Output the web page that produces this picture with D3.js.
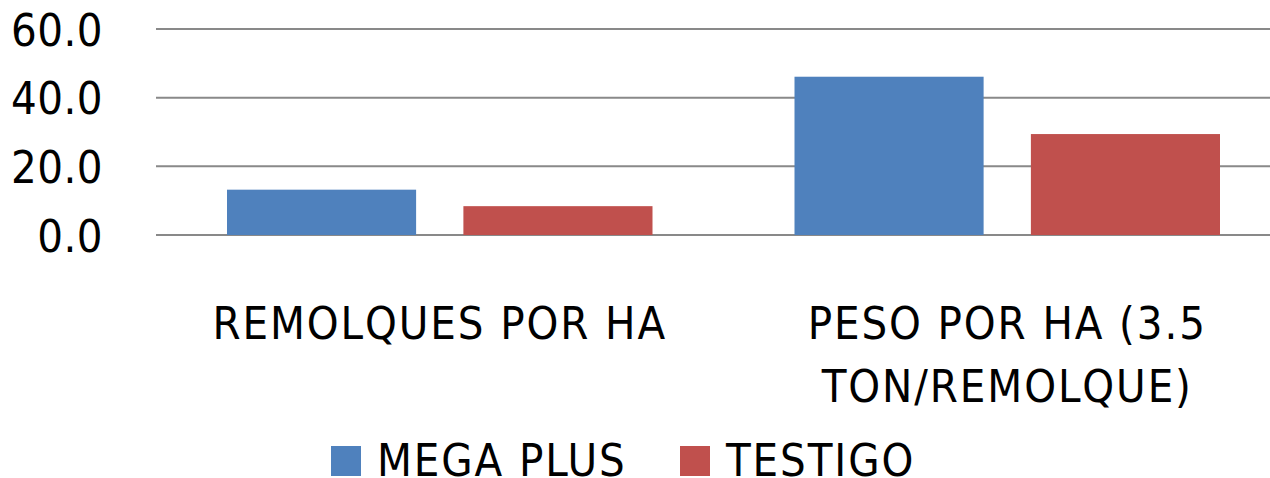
<!DOCTYPE html>
<html>
<head>
<meta charset="utf-8">
<script src="https://cdn.jsdelivr.net/npm/d3@7"></script>
<style>
  body { margin: 0; background: #fff; }
  svg { display: block; }
  text { font-family: "DejaVu Sans Condensed", "DejaVu Sans", sans-serif; font-stretch: condensed; font-size: 45px; fill: #000; }
  .cat text, .legend text { letter-spacing: 1.9px; }
  .yaxis text { letter-spacing: 0.5px; }
</style>
</head>
<body>
<svg id="chart" width="1270" height="478"></svg>
<script>
const categories = ["REMOLQUES POR HA", "PESO POR HA (3.5 TON/REMOLQUE)"];
const seriesNames = ["MEGA PLUS", "TESTIGO"];
const megaPlus = [13.2, 46.1];
const testigo = [8.4, 29.4];
const yTicks = [0, 20, 40, 60];
const colors = ["#4F81BD", "#C0504D"];

const svg = d3.select("#chart");
const plotLeft = 156, plotRight = 1291, plotTop = 29, plotBottom = 235;

const x0 = d3.scaleBand().domain(categories).range([plotLeft, plotRight]);
const x1 = d3.scaleBand().domain(seriesNames)
  .range([71, x0.bandwidth() - 71]).paddingInner(0.2);
const y = d3.scaleLinear().domain([0, 60]).range([plotBottom, plotTop]);

// grille
svg.append("g")
  .selectAll("line")
  .data(yTicks)
  .enter()
  .append("line")
  .attr("x1", plotLeft).attr("x2", plotRight)
  .attr("y1", d => y(d)).attr("y2", d => y(d))
  .attr("stroke", "#898989")
  .attr("stroke-width", 2);

// axe y
const yAxis = svg.append("g")
  .attr("class", "yaxis")
  .attr("transform", `translate(${plotLeft - 53},0)`)
  .call(d3.axisLeft(y).tickValues(yTicks).tickFormat(d3.format(".1f")).tickSize(0).tickPadding(0));
yAxis.select(".domain").remove();
yAxis.attr("font-family", null).attr("font-size", null);
yAxis.selectAll("text").attr("dy", "0.36em");

// barres
const rows = categories.map((c, i) => ({ cat: c, vals: [megaPlus[i], testigo[i]] }));
const grp = svg.append("g")
  .selectAll("g")
  .data(rows)
  .enter()
  .append("g")
  .attr("transform", d => `translate(${x0(d.cat)},0)`);

grp.selectAll("rect")
  .data(d => d.vals.map((v, j) => ({ name: seriesNames[j], v, j })))
  .enter()
  .append("rect")
  .attr("x", d => x1(d.name))
  .attr("width", x1.bandwidth())
  .attr("y", d => y(d.v))
  .attr("height", d => y(0) - y(d.v))
  .attr("fill", d => colors[d.j]);

// etiquettes categories
const labels = svg.append("g")
  .attr("class", "cat")
  .selectAll("text")
  .data(categories)
  .enter()
  .append("text")
  .attr("text-anchor", "middle")
  .attr("x", d => x0(d) + x0.bandwidth() / 2)
  .attr("y", 339);

labels.each(function(d) {
  const t = d3.select(this);
  const words = d.split(" ");
  let line = [];
  let tspan = t.append("tspan").attr("x", t.attr("x")).attr("dy", 0);
  words.forEach(w => {
    line.push(w);
    tspan.text(line.join(" "));
    if (tspan.node().getComputedTextLength() > 530 && line.length > 1) {
      line.pop();
      tspan.text(line.join(" "));
      line = [w];
      tspan = t.append("tspan").attr("x", t.attr("x")).attr("dy", 63).text(w);
    }
  });
});

// legende
const legendX = [331, 680];
const legend = svg.append("g")
  .attr("class", "legend")
  .selectAll("g")
  .data(seriesNames)
  .enter()
  .append("g")
  .attr("transform", (d, i) => `translate(${legendX[i]},446)`);
legend.append("rect")
  .attr("width", 30).attr("height", 30)
  .attr("fill", (d, i) => colors[i]);
legend.append("text")
  .attr("x", 46).attr("y", 30)
  .text(d => d);
</script>
</body>
</html>
